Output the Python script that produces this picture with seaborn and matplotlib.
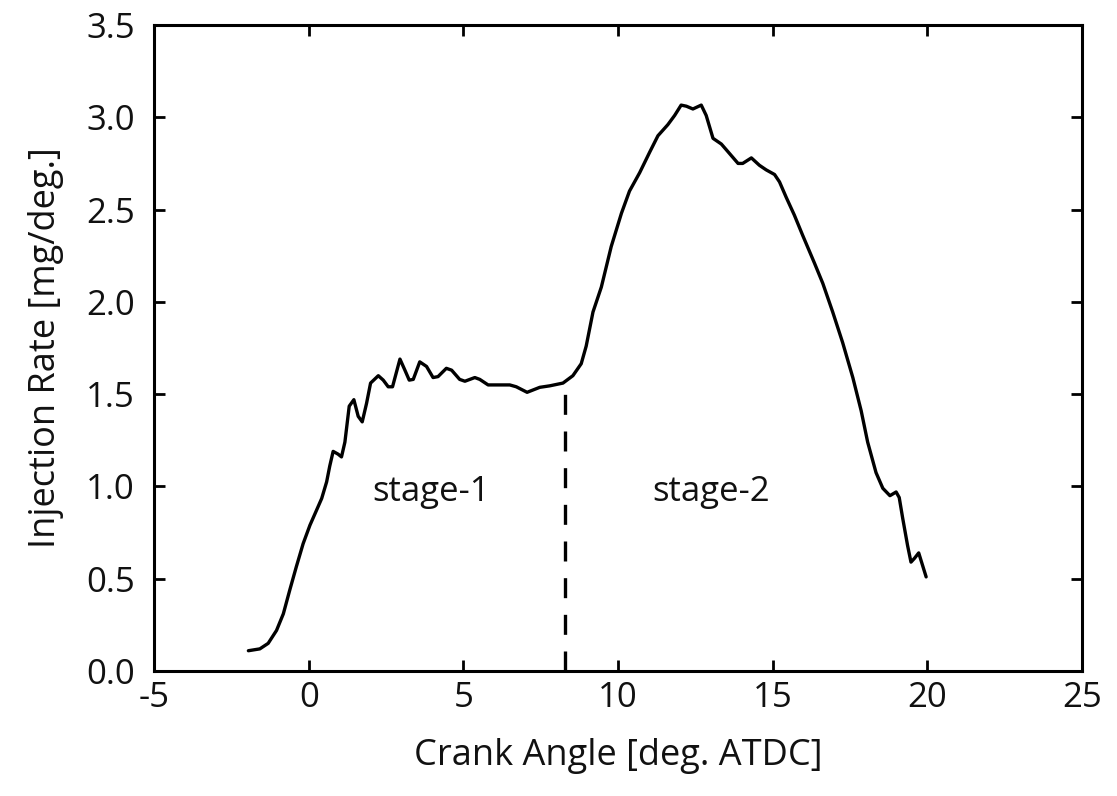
import numpy as np
import pandas as pd
import seaborn as sns
from matplotlib import pyplot as plt

# crank angle [deg ATDC] and injection rate [mg/deg]
crank_angle = [-1.95, -1.58, -1.31, -1.04, -0.82, -0.61, -0.40, -0.18, 0.04, 0.25,
               0.42, 0.58, 0.68, 0.79, 0.95, 1.06, 1.17, 1.31, 1.46, 1.60,
               1.73, 1.87, 2.00, 2.25, 2.41, 2.57, 2.71, 2.95, 3.11, 3.25,
               3.38, 3.59, 3.81, 4.02, 4.18, 4.45, 4.62, 4.88, 5.05, 5.37,
               5.53, 5.80, 6.50, 6.71, 7.06, 7.47, 7.79, 8.22, 8.54, 8.81,
               8.97, 9.19, 9.46, 9.78, 10.11, 10.37, 10.70, 11.02, 11.29, 11.61,
               11.83, 12.04, 12.21, 12.42, 12.69, 12.85, 13.07, 13.34, 13.50, 13.88,
               14.03, 14.31, 14.57, 14.79, 15.06, 15.22, 15.44, 15.70, 15.97, 16.35,
               16.62, 16.94, 17.26, 17.59, 17.86, 18.07, 18.34, 18.56, 18.79, 18.99,
               19.09, 19.20, 19.36, 19.47, 19.58, 19.72, 19.96]
injection_rate = [0.11, 0.12, 0.15, 0.22, 0.31, 0.44, 0.565, 0.69, 0.79, 0.87,
                  0.935, 1.025, 1.11, 1.19, 1.175, 1.16, 1.24, 1.435, 1.47, 1.38,
                  1.35, 1.45, 1.56, 1.60, 1.576, 1.54, 1.54, 1.69, 1.63, 1.576,
                  1.58, 1.675, 1.65, 1.59, 1.595, 1.64, 1.63, 1.58, 1.57, 1.59,
                  1.58, 1.55, 1.55, 1.54, 1.51, 1.537, 1.545, 1.56, 1.60, 1.665,
                  1.76, 1.945, 2.08, 2.30, 2.48, 2.60, 2.70, 2.81, 2.90, 2.96,
                  3.01, 3.066, 3.06, 3.045, 3.066, 3.01, 2.886, 2.855, 2.824, 2.75,
                  2.75, 2.78, 2.74, 2.715, 2.69, 2.65, 2.565, 2.47, 2.36, 2.21,
                  2.10, 1.945, 1.78, 1.59, 1.41, 1.24, 1.075, 0.99, 0.95, 0.97,
                  0.94, 0.83, 0.68, 0.59, 0.61, 0.64, 0.51]

stage_split = 8.3
split_rate = 1.55
stage_labels = ['stage-1', 'stage-2']
stage_label_x = [3.97, 13.0]
stage_label_y = [0.97, 0.97]

x_ticks = [-5, 0, 5, 10, 15, 20, 25]
y_ticks = [0.0, 0.5, 1.0, 1.5, 2.0, 2.5, 3.0, 3.5]

sns.set_style('ticks')
plt.rcParams['font.family'] = ['Open Sans', 'DejaVu Sans']

df = pd.DataFrame({'angle': crank_angle, 'rate': injection_rate})

fig = plt.figure(figsize=(11.17, 7.96), dpi=100)
ax = fig.add_axes([0.1379, 0.157, 0.8308, 0.8116])

sns.lineplot(data=df, x='angle', y='rate', color='black', linewidth=2.4, ax=ax)
ax.plot([stage_split, stage_split], [0, split_rate], color='black',
        linewidth=2.4, linestyle=(0, (6, 5)))

for lab, lx, ly in zip(stage_labels, stage_label_x, stage_label_y):
    ax.text(lx, ly, lab, ha='center', va='center', fontsize=25, color='#111111')

ax.set_xlim(-5, 25)
ax.set_ylim(0, 3.5)
ax.set_xticks(x_ticks)
ax.set_yticks(y_ticks)
ax.set_xticklabels([str(t) for t in x_ticks])
ax.set_yticklabels([f'{t:.1f}' for t in y_ticks])
ax.tick_params(direction='in', length=8, width=2, labelsize=25,
               top=True, right=True, colors='black', labelcolor='#111111')
ax.tick_params(axis='x', pad=7)
ax.tick_params(axis='y', pad=14)
for s in ax.spines.values():
    s.set_linewidth(2.2)
    s.set_color('black')
ax.set_xlabel('Crank Angle [deg. ATDC]', fontsize=26, labelpad=17, color='#111111')
ax.set_ylabel('Injection Rate [mg/deg.]', fontsize=26, labelpad=16, color='#111111')

fig.savefig('out.png', dpi=100)
